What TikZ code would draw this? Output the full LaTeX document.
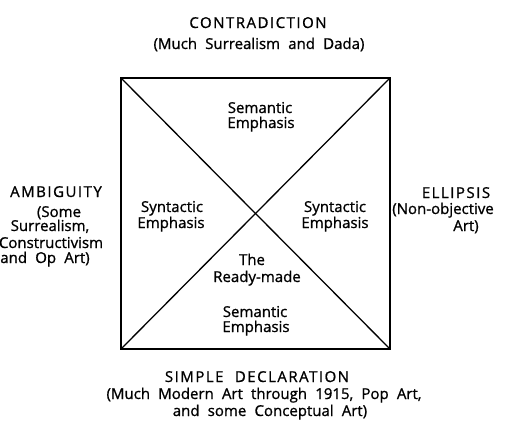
\documentclass[tikz,border=0pt]{standalone}
\usepackage{fontspec}
\setmainfont{Open Sans}[FakeBold=1.0,WordSpace=2.1]
\begin{document}
\begin{tikzpicture}[x=1pt,y=-1pt,
  txt/.style={anchor=base,inner sep=0pt,font=\fontsize{15}{16}\selectfont},
  caps/.style={txt,font=\fontsize{15}{16}\selectfont\addfontfeature{LetterSpace=10}},
  frame/.style={line width=1.7pt},
  diag/.style={line width=1.3pt}]
\useasboundingbox (0,0) rectangle (523,434);
\coordinate (tl) at (121,78);
\coordinate (tr) at (390,78);
\coordinate (br) at (390,349);
\coordinate (bl) at (121,349);
\draw[frame] (tl) -- (tr) -- (br) -- (bl) -- cycle;
\draw[diag] (tl) -- (br);
\draw[diag] (tr) -- (bl);
% top
\node[caps] (contra) at (258,28) {CONTRADICTION};
\node[txt] (contrasub) at (259,49) {(Much Surrealism and Dada)};
% inside
\node[txt] (semtopa) at (260,113) {Semantic};
\node[txt] (semtopb) at (261,128) {Emphasis};
\node[txt] (synla) at (172,212) {Syntactic};
\node[txt] (synlb) at (171,228) {Emphasis};
\node[txt] (synra) at (335,212) {Syntactic};
\node[txt] (synrb) at (335,228) {Emphasis};
\node[txt] (readya) at (252,265) {The};
\node[txt] (readyb) at (257,282) {Ready-made};
\node[txt] (sembota) at (255,317) {Semantic};
\node[txt] (sembotb) at (256,332) {Emphasis};
% left
\node[caps] (ambig) at (56,197) {AMBIGUITY};
\node[txt] (ambiga) at (59,217) {(Some};
\node[txt] (ambigb) at (50,231) {Surrealism,};
\node[txt] (ambigc) at (51,248) {Constructivism};
\node[txt] (ambigd) at (45,263) {and Op Art)};
% right
\node[caps] (ellip) at (456,198) {ELLIPSIS};
\node[txt] (ellipa) at (443,214) {(Non-objective};
\node[txt] (ellipb) at (466,231) {Art)};
% bottom
\node[caps] (simple) at (257,382) {SIMPLE DECLARATION};
\node[txt] (simplea) at (264,399) {(Much Modern Art through 1915, Pop Art,};
\node[txt] (simpleb) at (270,416) {and some Conceptual Art)};
\end{tikzpicture}
\end{document}
